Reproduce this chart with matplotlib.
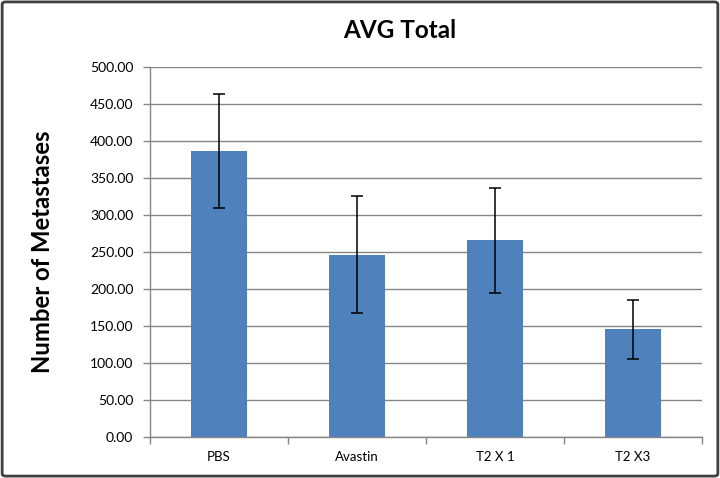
import matplotlib
matplotlib.use("Agg")
import matplotlib.pyplot as plt
from matplotlib.patches import FancyBboxPatch
from matplotlib.ticker import FixedLocator

categories = ["PBS", "Avastin", "T2 X 1", "T2 X3"]
values = [387.0, 246.5, 266.0, 146.0]
errors = [77.0, 79.0, 70.5, 40.0]
yticks = [0, 50, 100, 150, 200, 250, 300, 350, 400, 450, 500]

plt.rcParams['font.family'] = ['Lato', 'DejaVu Sans']

fig = plt.figure(figsize=(7.2, 4.78), dpi=100)
ax = fig.add_axes([150/720, 1-437.3/478, (702-150)/720, 370/478])

x = list(range(len(categories)))
ax.bar(x, values, width=0.4, color="#4F81BD", zorder=2)
ax.errorbar(x, values, yerr=errors, fmt="none", ecolor="black", elinewidth=1.1,
            capsize=4, capthick=1.1, zorder=3)

ax.set_xlim(-0.5, len(categories) - 0.5)
ax.set_ylim(0, 500)
ax.set_yticks(yticks)
ax.set_yticklabels([f"{v:.2f}" for v in yticks], fontsize=10)
ax.set_xticks(x)
ax.set_xticklabels(categories, fontsize=9.5)
ax.tick_params(axis="x", length=0, pad=10)
ax.xaxis.set_minor_locator(FixedLocator([i - 0.5 for i in range(len(categories) + 1)]))
ax.tick_params(axis="x", which="minor", length=5, color="#868686", width=1)
ax.tick_params(axis="y", length=5, color="#868686", width=1, pad=7)
ax.grid(axis="y", color="#868686", linewidth=1, zorder=0)
ax.set_axisbelow(True)
for s in ["top", "right"]:
    ax.spines[s].set_visible(False)
for s in ["left", "bottom"]:
    ax.spines[s].set_color("#868686")
    ax.spines[s].set_linewidth(1)

fig.text(43/720, 1 - 252/478, "Number of Metastases", rotation=90, ha="center", va="center",
         fontsize=17.2, fontweight="bold")
fig.text(400/720, 1 - 31/478, "AVG Total", ha="center", va="center",
         fontsize=17.5, fontweight="bold")

border = FancyBboxPatch((0.003, 0.004), 0.994, 0.992, boxstyle="round,pad=0,rounding_size=0.005",
                        transform=fig.transFigure, fill=False, edgecolor="#404040", linewidth=2)
fig.patches.append(border)

fig.savefig("out.png", dpi=100)
